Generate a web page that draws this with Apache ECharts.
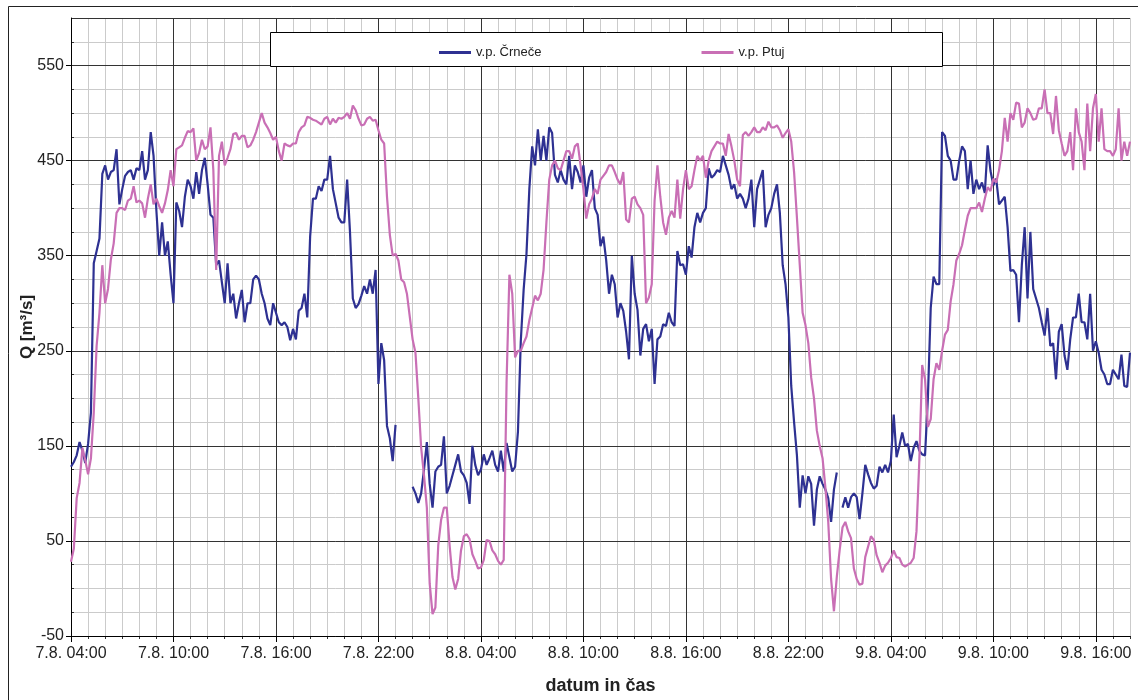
<!DOCTYPE html>
<html>
<head>
<meta charset="utf-8">
<title>Pretok Drave</title>
<script src="https://cdn.jsdelivr.net/npm/echarts@6/dist/echarts.min.js"></script>
<style>
  html, body { margin: 0; padding: 0; background: #fff; }
  #chart { width: 1138px; height: 700px; }
</style>
</head>
<body>
<div id="chart"></div>
<script>
// casovni korak meritev: 10 minut, zacetek 7.8. 04:00
const startDay = 7;
const startMonth = 8;
const startHour = 4;
const stepH = 1 / 6;
const spanH = 62;

const seriesNames = ['v.p. Črneče', 'v.p. Ptuj'];

// v.p. Črneče [m3/s]
const crneceQ = [
  128, 133, 140, 154, 145, 132, 152, 185, 342, 355,
  368, 436, 445, 430, 438, 440, 462, 404, 420, 434,
  438, 440, 430, 442, 440, 460, 430, 440, 480, 455,
  397, 350, 385, 350, 365, 330, 300, 406, 397, 380,
  412, 430, 423, 410, 438, 415, 440, 453, 425, 393,
  390, 340, 345, 322, 300, 342, 300, 310, 284, 300,
  314, 280, 300, 300, 325, 329, 325, 310, 300, 284,
  277, 300, 290, 280, 277, 280, 275, 261, 273, 262,
  292, 295, 310, 285, 370, 410, 410, 423, 418, 430,
  430, 455, 420, 405, 390, 385, 385, 430, 375, 305,
  295, 299, 308, 318, 310, 325, 310, 335, 215, 258,
  240, 171, 158, 134, 172, null, null, null, null, null,
  107, 100, 90, 100, 125, 154, 110, 85, 123, 128,
  130, 160, 100, 108, 119, 130, 141, 123, 119, 111,
  89, 150, 130, 119, 125, 141, 130, 137, 145, 130,
  123, 145, 123, 153, 138, 123, 128, 165, 260, 314,
  352, 420, 465, 445, 483, 450, 476, 450, 485, 479,
  435, 427, 440, 430, 425, 455, 420, 445, 438, 427,
  445, 412, 432, 440, 400, 393, 360, 370, 345, 310,
  330, 320, 285, 300, 292, 270, 241, 350, 310, 293,
  245, 273, 278, 260, 273, 215, 262, 265, 278, 276,
  290, 280, 276, 355, 340, 341, 330, 360, 348, 380,
  395, 385, 395, 400, 442, 432, 435, 440, 438, 455,
  445, 435, 420, 425, 410, 415, 410, 400, 410, 430,
  380, 420, 430, 440, 380, 393, 400, 415, 425, 395,
  340, 320, 285, 213, 175, 140, 85, 119, 100, 118,
  110, 66, 104, 118, 110, 104, 95, 70, 104, 122,
  null, 85, 96, 85, 96, 100, 96, 73, 100, 130,
  120, 111, 105, 108, 128, 122, 130, 122, 134, 183,
  138, 150, 164, 150, 152, 134, 148, 155, 145, 141,
  140, 200, 295, 328, 320, 320, 480, 476, 455, 450,
  430, 430, 450, 465, 460, 420, 450, 415, 430, 420,
  427, 416, 466, 439, 424, 431, 404, 408, 412, 380,
  334, 335, 330, 280, 340, 380, 305, 375, 315, 305,
  295, 280, 266, 295, 255, 258, 220, 270, 278, 245,
  230, 262, 285, 285, 310, 280, 280, 262, 310, 250,
  260, 248, 230, 225, 215, 215, 230, 225, 220, 246,
  213, 212, 248
];

// v.p. Ptuj [m3/s]
const ptujQ = [
  28, 42, 95, 111, 148, 135, 120, 137, 185, 255,
  290, 340, 300, 315, 346, 363, 395, 400, 400, 398,
  408, 410, 423, 406, 408, 405, 390, 410, 425, 404,
  410, 402, 395, 405, 419, 440, 423, 462, 464, 466,
  474, 481, 480, 484, 450, 458, 472, 462, 465, 485,
  440, 335, 455, 470, 445, 453, 462, 478, 479, 472,
  476, 476, 464, 466, 472, 480, 490, 500, 490, 485,
  479, 472, 475, 460, 450, 468, 466, 465, 468, 468,
  480, 485, 487, 496, 495, 493, 492, 490, 488, 494,
  496, 488, 494, 490, 495, 494, 496, 500, 494, 508,
  503, 494, 487, 488, 494, 496, 492, 493, 482, 472,
  468, 412, 372, 350, 352, 345, 325, 322, 310, 286,
  262, 248, 200, 148, 119, 85, 5, -27, -20, 45,
  72, 85, 85, 45, 12, -1, 10, 40, 55, 57,
  52, 36, 29, 21, 22, 30, 51, 50, 40, 36,
  29, 25, 30, 216, 330, 310, 243, 250, 250, 258,
  265, 282, 295, 308, 303, 310, 335, 385, 430, 445,
  450, 442, 440, 450, 460, 460, 452, 465, 468, 445,
  420, 389, 404, 410, 420, 415, 430, 434, 438, 445,
  445, 438, 430, 425, 438, 388, 385, 410, 412, 404,
  400, 393, 300, 306, 320, 408, 445, 412, 385, 372,
  390, 397, 390, 430, 389, 420, 440, 420, 423, 440,
  455, 450, 455, 432, 450, 460, 465, 470, 468, 468,
  455, 478, 465, 450, 430, 423, 477, 480, 476, 480,
  485, 480, 480, 485, 482, 491, 485, 485, 487, 482,
  474, 479, 483, 470, 438, 390, 340, 290, 277, 258,
  222, 200, 166, 150, 137, 106, 70, 10, -24, 12,
  40, 64, 70, 60, 53, 21, 10, 4, 5, 33,
  44, 55, 51, 35, 27, 17, 24, 27, 32, 40,
  33, 32, 25, 23, 25, 27, 32, 60, 135, 235,
  220, 170, 178, 220, 237, 230, 250, 267, 272, 302,
  320, 345, 352, 361, 377, 392, 400, 400, 400, 406,
  396, 410, 422, 418, 431, 427, 440, 460, 495, 470,
  500, 493, 511, 510, 485, 490, 505, 500, 493, 494,
  505, 505, 525, 500, 500, 478, 518, 482, 468, 455,
  460, 480, 440, 505, 480, 470, 440, 510, 460, 505,
  520, 470, 505, 462, 460, 460, 455, 462, 505, 450,
  470, 455, 470
];

const fontFam = '"Liberation Sans", Arial, sans-serif';
const colors = ['#2e3192', '#c96fb5'];
const minorColor = '#cbcbcb';
const majorColor = '#333';

function pad(n) { return (n < 10 ? '0' : '') + n; }

function timeLabel(v) {
  const total = startHour + Math.round(v);
  const day = startDay + Math.floor(total / 24);
  return day + '.' + startMonth + '. ' + pad(total % 24) + ':00';
}

function toPairs(arr) {
  return arr.map(function (q, i) { return [i * stepH, q]; });
}

const chart = echarts.init(document.getElementById('chart'));

const option = {
  animation: false,
  textStyle: { fontFamily: fontFam },
  grid: { left: 71, right: 8, top: 18, bottom: 64, containLabel: false },
  graphic: [
    {
      type: 'rect', z: 0, silent: true,
      shape: { x: 8.5, y: 6.5, width: 1140, height: 710 },
      style: { fill: 'none', stroke: '#222', lineWidth: 1 }
    },
    {
      type: 'rect', z: 50, silent: true,
      shape: { x: 270.5, y: 32.5, width: 672, height: 34 },
      style: { fill: '#fff', stroke: '#000', lineWidth: 1 }
    }
  ],
  legend: {
    z: 60,
    left: 434,
    top: 41,
    itemGap: 160,
    itemWidth: 32,
    itemHeight: 3,
    icon: 'rect',
    textStyle: { fontSize: 13, color: '#222', fontFamily: fontFam },
    data: seriesNames
  },
  xAxis: [
    {
      type: 'value', position: 'bottom', min: 0, max: spanH, interval: 1, z: 0,
      axisLine: { show: false, onZero: false },
      axisTick: { show: true, length: 3, lineStyle: { color: majorColor } },
      axisLabel: { show: false },
      splitLine: { show: true, lineStyle: { color: minorColor, width: 1 } }
    },
    {
      type: 'value', position: 'bottom', min: 0, max: spanH, interval: 6, z: 1,
      axisLine: { show: true, onZero: false, lineStyle: { color: '#000', width: 1 } },
      axisTick: { show: true, length: 6, lineStyle: { color: '#000' } },
      axisLabel: {
        formatter: timeLabel, showMaxLabel: false, fontSize: 16, color: '#222', margin: 10,
        fontFamily: fontFam
      },
      splitLine: { show: true, showMaxLine: false, lineStyle: { color: majorColor, width: 1 } },
      name: 'datum in čas',
      nameLocation: 'middle',
      nameGap: 41,
      nameMoveOverlap: false,
      nameTextStyle: { fontSize: 18, fontWeight: 'bold', color: '#222', fontFamily: fontFam }
    }
  ],
  yAxis: [
    {
      type: 'value', position: 'left', min: -50, max: 600, interval: 25, z: 0,
      axisLine: { show: false, onZero: false },
      axisTick: { show: true, inside: true, length: 3, lineStyle: { color: majorColor } },
      axisLabel: { show: false },
      splitLine: { show: true, lineStyle: { color: minorColor, width: 1 } }
    },
    {
      type: 'value', position: 'left', min: -50, max: 600, interval: 100, z: 1,
      axisLine: { show: true, onZero: false, lineStyle: { color: '#000', width: 1 } },
      axisTick: { show: true, length: 5, lineStyle: { color: '#000' } },
      axisLabel: { showMaxLabel: false, fontSize: 16, color: '#222', margin: 7, fontFamily: fontFam },
      splitLine: { show: true, lineStyle: { color: majorColor, width: 1 } },
      name: 'Q [m³/s]',
      nameLocation: 'middle',
      nameGap: 35,
      nameMoveOverlap: false,
      nameTextStyle: { fontSize: 17, fontWeight: 'bold', color: '#222', fontFamily: fontFam }
    }
  ],
  series: [
    {
      name: seriesNames[0],
      type: 'line',
      xAxisIndex: 1, yAxisIndex: 1,
      showSymbol: false,
      connectNulls: false,
      lineStyle: { color: colors[0], width: 2.2 },
      itemStyle: { color: colors[0] },
      data: toPairs(crneceQ)
    },
    {
      name: seriesNames[1],
      type: 'line',
      xAxisIndex: 1, yAxisIndex: 1,
      showSymbol: false,
      lineStyle: { color: colors[1], width: 2.2 },
      itemStyle: { color: colors[1] },
      data: toPairs(ptujQ)
    }
  ]
};

chart.setOption(option);
</script>
</body>
</html>
